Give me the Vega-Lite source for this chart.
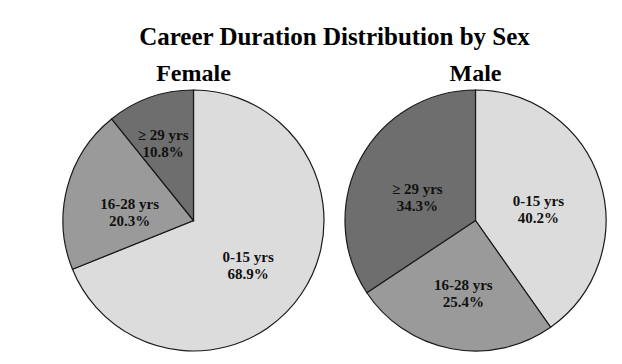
{
  "$schema": "https://vega.github.io/schema/vega-lite/v6.json",
  "background": "white",
  "autosize": {"type": "pad"},
  "padding": {"left": 60, "top": 24, "right": 0, "bottom": 0},
  "title": {
    "text": "Career Duration Distribution by Sex",
    "font": "Liberation Serif",
    "fontSize": 25,
    "fontWeight": "bold",
    "color": "black",
    "anchor": "middle",
    "offset": 12
  },
  "data": {
    "values": [
      {"sex": "Female", "duration": "0-15 yrs", "pct": 68.9},
      {"sex": "Female", "duration": "16-28 yrs", "pct": 20.3},
      {"sex": "Female", "duration": "≥ 29 yrs", "pct": 10.8},
      {"sex": "Male", "duration": "0-15 yrs", "pct": 40.2},
      {"sex": "Male", "duration": "16-28 yrs", "pct": 25.4},
      {"sex": "Male", "duration": "≥ 29 yrs", "pct": 34.3}
    ]
  },
  "transform": [
    {"calculate": "datum.duration + '\\n' + format(datum.pct, '.1f') + '%'", "as": "label"}
  ],
  "spacing": 15,
  "hconcat": [
    {
      "title": {"text": "Female", "font": "Liberation Serif", "fontSize": 24, "fontWeight": "bold", "color": "black", "baseline": "alphabetic", "offset": -17},
      "transform": [
        {"filter": "datum.sex === 'Female'"},
        {"stack": "pct", "groupby": [], "sort": [{"field": "duration", "order": "ascending"}], "as": ["s0", "s1"]},
        {"calculate": "(datum.s0 + datum.s1) / 2", "as": "mid"}
      ],
      "width": 261,
      "height": 261,
      "layer": [
        {
          "mark": {"type": "arc", "stroke": "#1a1a1a", "strokeWidth": 1.2},
          "encoding": {
            "theta": {"field": "s1", "type": "quantitative", "scale": {"zero": true, "nice": false}},
            "theta2": {"field": "s0"},
            "color": {"field": "duration", "type": "nominal", "legend": null,
              "scale": {"domain": ["0-15 yrs", "16-28 yrs", "≥ 29 yrs"], "range": ["#dcdcdc", "#9a9a9a", "#6e6e6e"]}}
          }
        },
        {
          "transform": [{"filter": "datum.pct >= 15"}],
          "mark": {"type": "text", "radius": 66, "font": "Liberation Serif", "fontWeight": "bold", "fontSize": 15, "lineHeight": 17, "lineBreak": "\n", "fill": "#111111", "baseline": "middle", "align": "center"},
          "encoding": {
            "theta": {"field": "mid", "type": "quantitative"},
            "text": {"field": "label", "type": "nominal"}
          }
        },
        {
          "transform": [{"filter": "datum.pct < 15"}],
          "mark": {"type": "text", "radius": 91, "font": "Liberation Serif", "fontWeight": "bold", "fontSize": 15, "lineHeight": 17, "lineBreak": "\n", "fill": "#111111", "baseline": "middle", "align": "center"},
          "encoding": {
            "theta": {"field": "mid", "type": "quantitative"},
            "text": {"field": "label", "type": "nominal"}
          }
        }
      ]
    },
    {
      "title": {"text": "Male", "font": "Liberation Serif", "fontSize": 24, "fontWeight": "bold", "color": "black", "baseline": "alphabetic", "offset": -17},
      "transform": [
        {"filter": "datum.sex === 'Male'"},
        {"stack": "pct", "groupby": [], "sort": [{"field": "duration", "order": "ascending"}], "as": ["s0", "s1"]},
        {"calculate": "(datum.s0 + datum.s1) / 2", "as": "mid"}
      ],
      "width": 261,
      "height": 261,
      "layer": [
        {
          "mark": {"type": "arc", "stroke": "#1a1a1a", "strokeWidth": 1.2},
          "encoding": {
            "theta": {"field": "s1", "type": "quantitative", "scale": {"zero": true, "nice": false}},
            "theta2": {"field": "s0"},
            "color": {"field": "duration", "type": "nominal", "legend": null,
              "scale": {"domain": ["0-15 yrs", "16-28 yrs", "≥ 29 yrs"], "range": ["#dcdcdc", "#9a9a9a", "#6e6e6e"]}}
          }
        },
        {
          "mark": {"type": "text", "radius": 66, "font": "Liberation Serif", "fontWeight": "bold", "fontSize": 15, "lineHeight": 17, "lineBreak": "\n", "fill": "#111111", "baseline": "middle", "align": "center"},
          "encoding": {
            "theta": {"field": "mid", "type": "quantitative"},
            "text": {"field": "label", "type": "nominal"}
          }
        }
      ]
    }
  ],
  "config": {"view": {"stroke": null}}
}
